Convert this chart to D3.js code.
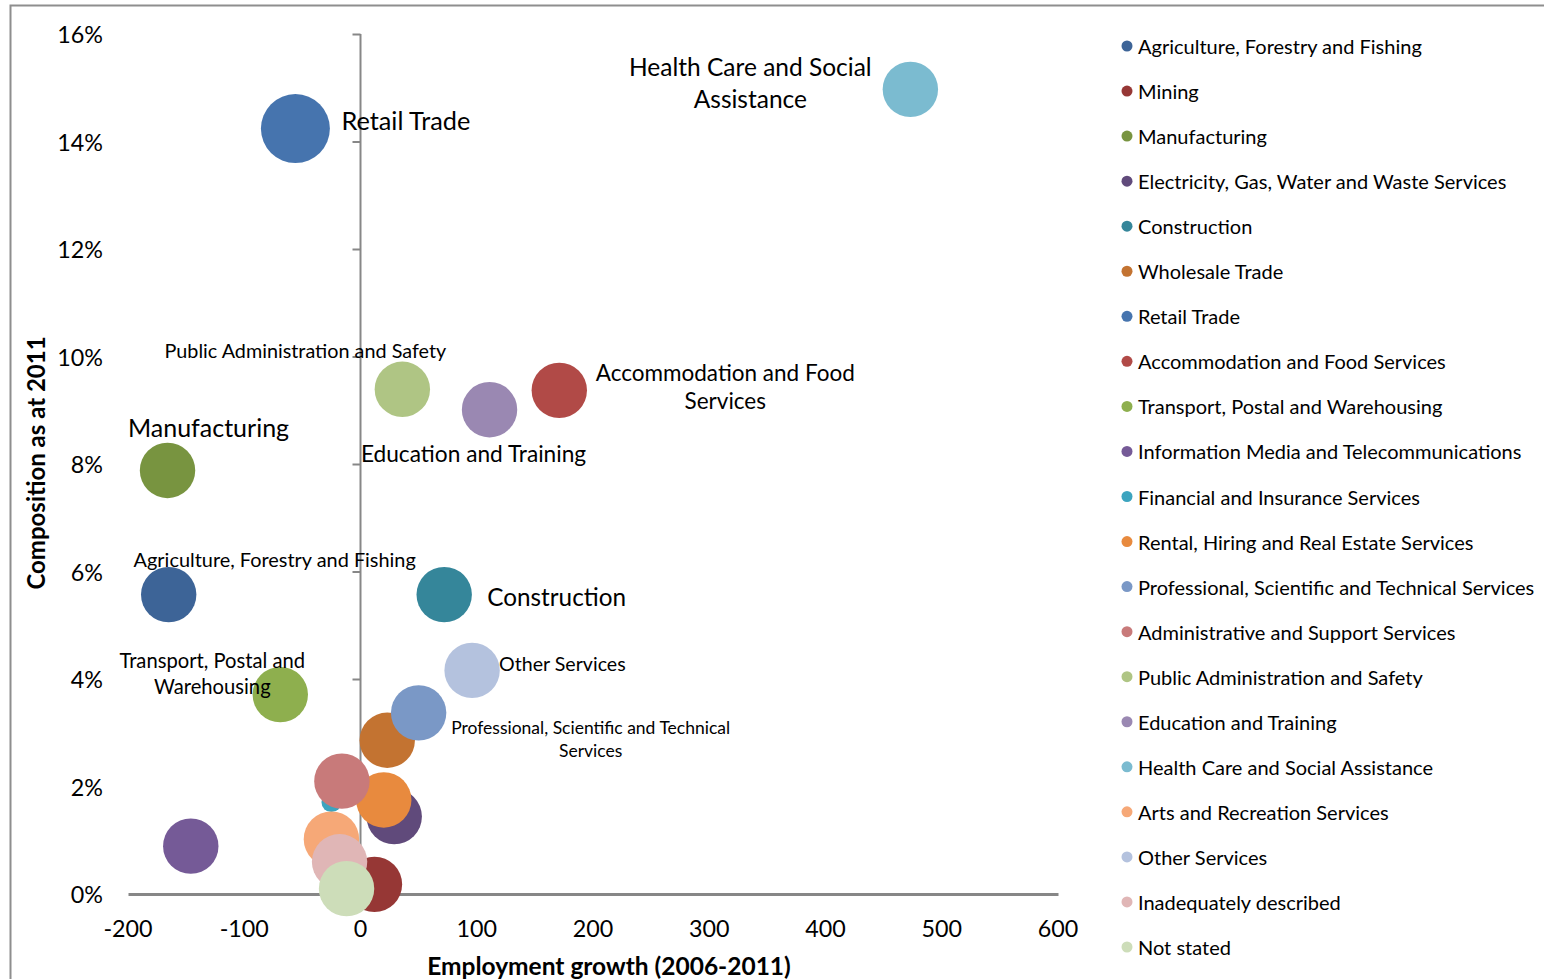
<!DOCTYPE html>
<html>
<head>
<meta charset="utf-8">
<script src="https://cdn.jsdelivr.net/npm/d3@7"></script>
<style>
  html, body { margin: 0; padding: 0; background: #fff; }
  svg { display: block; font-family: Lato, "Open Sans", sans-serif; }
</style>
</head>
<body>
<svg id="chart" width="1544" height="979"></svg>
<script>
// ---------------- data ----------------
const industries = [
  "Agriculture, Forestry and Fishing",
  "Mining",
  "Manufacturing",
  "Electricity, Gas, Water and Waste Services",
  "Construction",
  "Wholesale Trade",
  "Retail Trade",
  "Accommodation and Food Services",
  "Transport, Postal and Warehousing",
  "Information Media and Telecommunications",
  "Financial and Insurance Services",
  "Rental, Hiring and Real Estate Services",
  "Professional, Scientific and Technical Services",
  "Administrative and Support Services",
  "Public Administration and Safety",
  "Education and Training",
  "Health Care and Social Assistance",
  "Arts and Recreation Services",
  "Other Services",
  "Inadequately described",
  "Not stated"
];
// Employment growth 2006-2011 (persons)
const growth = [-165, 12, -166, 29, 72, 23, -56, 171, -69, -146, -25, 20, 50, -16, 36, 111, 473, -25, 96, -18, -12];
// Composition as at 2011 (%)
const composition = [5.57, 0.18, 7.88, 1.44, 5.57, 2.86, 14.24, 9.37, 3.71, 0.89, 1.71, 1.75, 3.37, 2.10, 9.39, 9.01, 14.97, 1.02, 4.16, 0.60, 0.10];
// Bubble size (relative)
const bubbleSize = [100, 100, 100, 100, 100, 100, 155, 100, 100, 100, 13, 100, 100, 100, 100, 100, 100, 100, 100, 100, 100];
const colors = ["#3D6497", "#963735", "#789440", "#604A7B", "#35869A", "#C37331", "#4674AE", "#B14A47",
  "#8EAF4E", "#755A97", "#3CA4BF", "#E88A3E", "#7A98C6", "#C87A7A", "#AFC584", "#9A88B2",
  "#7BBBD0", "#F6A877", "#B4C2DE", "#E0B6B6", "#CDDDB9"];

const xTicks = [-200, -100, 0, 100, 200, 300, 400, 500, 600];
const yTicks = [0, 2, 4, 6, 8, 10, 12, 14, 16];
const xTitle = "Employment growth (2006-2011)";
const yTitle = "Composition as at 2011";

// data labels: industry index, lines, font size, anchor, offset from bubble (px)
const labels = [
  {i: 16, lines: ["Health Care and Social", "Assistance"], fs: 24.5, anchor: "middle", dx: -160, dy: -23, lh: 32},
  {i: 6, lines: ["Retail Trade"], fs: 25.3, anchor: "start", dx: 46, dy: -9},
  {i: 14, lines: ["Public Administration and Safety"], fs: 19.8, anchor: "middle", dx: -97, dy: -39},
  {i: 7, lines: ["Accommodation and Food", "Services"], fs: 22.5, anchor: "middle", dx: 166, dy: -18, lh: 28},
  {i: 2, lines: ["Manufacturing"], fs: 25, anchor: "middle", dx: 41, dy: -43},
  {i: 15, lines: ["Education and Training"], fs: 22.7, anchor: "middle", dx: -16, dy: 44},
  {i: 0, lines: ["Agriculture, Forestry and Fishing"], fs: 19.9, anchor: "middle", dx: 106, dy: -36},
  {i: 4, lines: ["Construction"], fs: 24.3, anchor: "start", dx: 43, dy: 2},
  {i: 8, lines: ["Transport, Postal and", "Warehousing"], fs: 20.2, anchor: "middle", dx: -68, dy: -35, lh: 26},
  {i: 18, lines: ["Other Services"], fs: 19.6, anchor: "start", dx: 27, dy: -7},
  {i: 12, lines: ["Professional, Scientific and Technical", "Services"], fs: 17.5, anchor: "middle", dx: 172, dy: 15, lh: 23}
];

// ---------------- drawing ----------------
const svg = d3.select("#chart");
const axisColor = "#878787";

// outer chart frame (only top & left edges visible)
svg.append("rect")
  .attr("x", 10.5).attr("y", 5.5)
  .attr("width", 1600).attr("height", 1000)
  .attr("fill", "none").attr("stroke", "#8e8e8e").attr("stroke-width", 2);

const x = d3.scaleLinear().domain([-200, 600]).range([128, 1058]);
const y = d3.scaleLinear().domain([0, 16]).range([894, 34]);
const r = d3.scaleSqrt().domain([0, 100]).range([0, 27.7]);

// y axis at x = 0, ticks pointing left, labels on far left
const yAxisG = svg.append("g").attr("transform", `translate(${x(0)},0)`)
  .call(d3.axisLeft(y).tickValues(yTicks).tickSize(8).tickFormat(""));
yAxisG.select(".domain").attr("stroke", axisColor).attr("stroke-width", 2).attr("d", `M0,${y(16)}V${y(0)}`);
yAxisG.selectAll(".tick line").attr("stroke", axisColor).attr("stroke-width", 2);

svg.append("g").selectAll("text").data(yTicks).join("text")
  .attr("x", 103).attr("y", d => y(d))
  .attr("text-anchor", "end").attr("dominant-baseline", "central")
  .attr("font-size", 23.3).attr("fill", "#000")
  .text(d => d + "%");

// x axis at y = 0 (no tick marks)
const xAxisG = svg.append("g").attr("transform", `translate(0,${y(0)})`)
  .call(d3.axisBottom(x).tickValues(xTicks).tickSize(0).tickFormat(""));
xAxisG.select(".domain").attr("stroke", axisColor).attr("stroke-width", 3);

svg.append("g").selectAll("text").data(xTicks).join("text")
  .attr("x", d => x(d)).attr("y", 928)
  .attr("text-anchor", "middle").attr("dominant-baseline", "central")
  .attr("font-size", 23.3).attr("fill", "#000")
  .text(d => d);

// axis titles
svg.append("text")
  .attr("x", 609).attr("y", 965)
  .attr("text-anchor", "middle").attr("dominant-baseline", "central")
  .attr("font-size", 24.5).attr("font-weight", "bold")
  .text(xTitle);
svg.append("text")
  .attr("transform", `translate(35,463) rotate(-90)`)
  .attr("text-anchor", "middle").attr("dominant-baseline", "central")
  .attr("font-size", 24).attr("font-weight", "bold")
  .text(yTitle);

// bubbles
const data = industries.map((name, i) => ({name, gx: growth[i], cy: composition[i], s: bubbleSize[i], c: colors[i]}));
svg.append("g").selectAll("circle").data(data).join("circle")
  .attr("cx", d => x(d.gx)).attr("cy", d => y(d.cy))
  .attr("r", d => r(d.s))
  .attr("fill", d => d.c);

// data labels
const lg = svg.append("g");
labels.forEach(l => {
  const d = data[l.i];
  const t = lg.append("text")
    .attr("text-anchor", l.anchor)
    .attr("font-size", l.fs).attr("fill", "#000");
  l.lines.forEach((line, k) => {
    t.append("tspan")
      .attr("x", x(d.gx) + l.dx)
      .attr("y", y(d.cy) + l.dy + k * (l.lh || 0))
      .attr("dominant-baseline", "central")
      .text(line);
  });
});

// legend
const legend = svg.append("g").attr("transform", "translate(1127,46)");
const rows = legend.selectAll("g").data(data).join("g")
  .attr("transform", (d, i) => `translate(0,${i * 45.05})`);
rows.append("circle").attr("r", 5.5).attr("fill", d => d.c);
rows.append("text").attr("x", 11).attr("dominant-baseline", "central")
  .attr("font-size", 20).attr("fill", "#000")
  .text(d => d.name);
</script>
</body>
</html>
